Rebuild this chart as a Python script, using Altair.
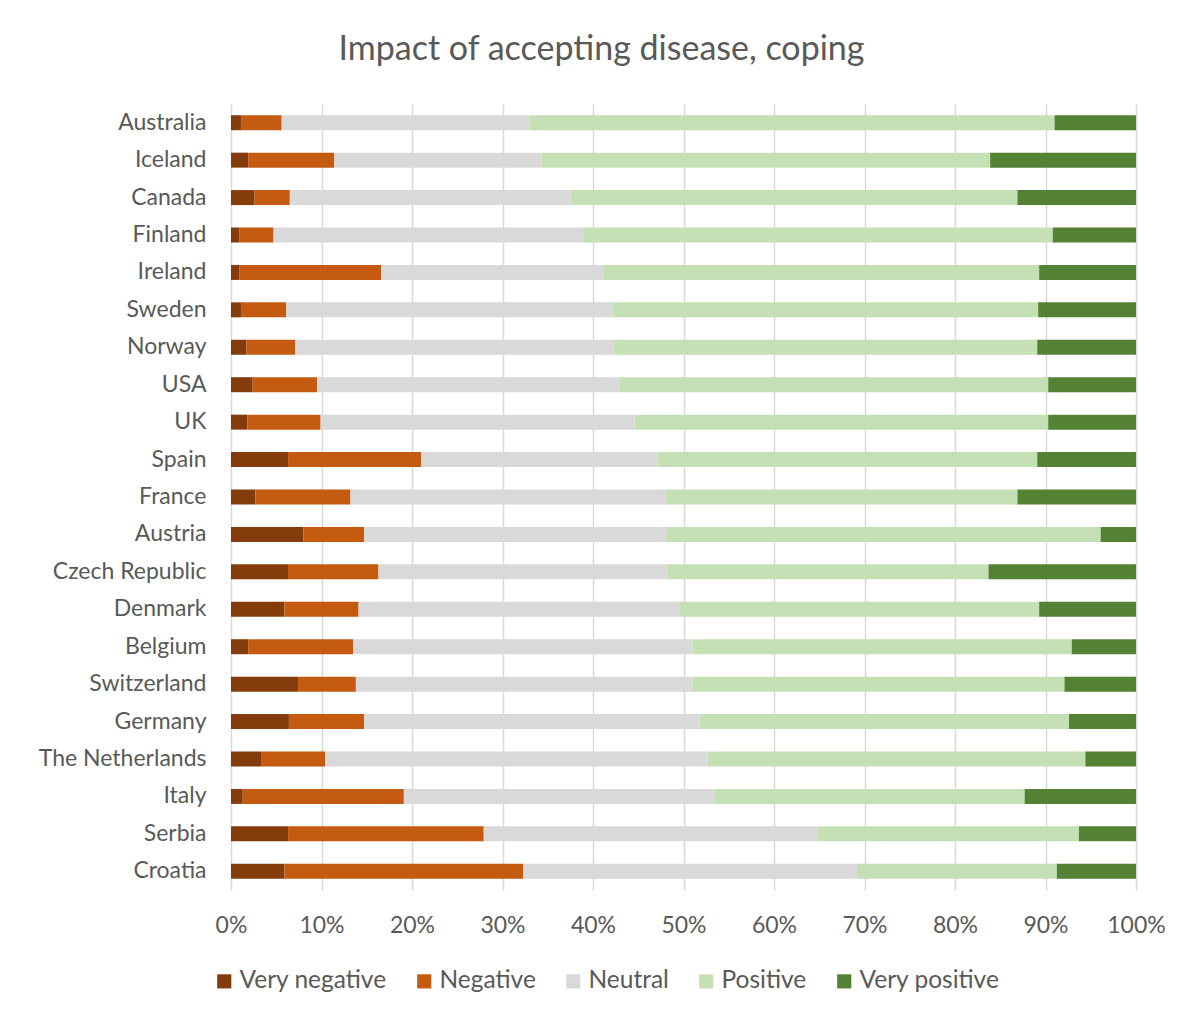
import altair as alt
import pandas as pd

countries = ["Australia", "Iceland", "Canada", "Finland", "Ireland", "Sweden", "Norway",
             "USA", "UK", "Spain", "France", "Austria", "Czech Republic", "Denmark",
             "Belgium", "Switzerland", "Germany", "The Netherlands", "Italy", "Serbia", "Croatia"]
categories = ["Very negative", "Negative", "Neutral", "Positive", "Very positive"]
colors = ["#843c0c", "#c55a11", "#d9d9d9", "#c5e0b4", "#548235"]

very_negative = [1.1, 1.9, 2.6, 0.9, 0.9, 1.1, 1.7, 2.4, 1.8, 6.3, 2.7, 8.0, 6.3, 5.9, 1.9, 7.4, 6.4, 3.4, 1.3, 6.3, 5.9]
negative      = [4.5, 9.5, 3.9, 3.8, 15.7, 5.0, 5.4, 7.1, 8.1, 14.7, 10.5, 6.7, 10.0, 8.2, 11.6, 6.4, 8.3, 7.0, 17.8, 21.6, 26.4]
neutral       = [27.4, 22.9, 31.0, 34.3, 24.6, 36.0, 35.1, 33.4, 34.7, 26.1, 34.8, 33.4, 31.9, 35.5, 37.5, 37.2, 37.1, 42.3, 34.3, 36.9, 36.9]
positive      = [58.0, 49.5, 49.4, 51.8, 48.1, 47.0, 46.8, 47.4, 45.7, 41.9, 38.9, 48.0, 35.5, 39.7, 41.9, 41.1, 40.8, 41.8, 34.3, 28.8, 22.1]
very_positive = [9.0, 16.1, 13.1, 9.2, 10.7, 10.8, 10.9, 9.7, 9.7, 10.9, 13.1, 3.9, 16.3, 10.7, 7.1, 7.9, 7.4, 5.6, 12.3, 6.3, 8.75]

series = [very_negative, negative, neutral, positive, very_positive]
rows = []
for ci, (cat, vals) in enumerate(zip(categories, series)):
    for country, v in zip(countries, vals):
        rows.append({"Country": country, "Response": cat, "Value": v, "Order": ci})
df = pd.DataFrame(rows)

FONT = "Lato"
TEXT = "#595959"

chart = alt.Chart(df).mark_bar(size=15).encode(
    y=alt.Y("Country:N", sort=countries, title=None,
            axis=alt.Axis(labelFontSize=23, labelColor=TEXT, labelFont=FONT,
                          ticks=False, domain=False, labelPadding=25)),
    x=alt.X("Value:Q", stack="normalize", title=None,
            scale=alt.Scale(domain=[0, 1], nice=False),
            axis=alt.Axis(format=".0%", values=[i / 10 for i in range(11)],
                          labelFontSize=23, labelColor=TEXT, labelFont=FONT,
                          labelFlush=False, labelOverlap=False,
                          ticks=False, domain=False, labelPadding=24,
                          grid=True, gridColor="#d9d9d9", gridWidth=1.5)),
    color=alt.Color("Response:N", sort=categories,
                    scale=alt.Scale(domain=categories, range=colors),
                    legend=alt.Legend(title=None, orient="none", direction="horizontal",
                                      legendX=-19, legendY=865,
                                      labelFontSize=24.5, labelColor=TEXT, labelFont=FONT,
                                      symbolType="square", symbolSize=200,
                                      symbolStrokeWidth=0, columnPadding=25,
                                      labelOffset=3)),
    order=alt.Order("Order:Q", sort="ascending"),
).properties(
    width=905,
    height=786,
    title=alt.TitleParams("Impact of accepting disease, coping", fontSize=34,
                          font=FONT, fontWeight="normal", color=TEXT,
                          anchor="middle", offset=37, dx=-82),
    autosize=alt.AutoSizeParams(type="none"),
    padding={"left": 223, "top": 96, "right": 40, "bottom": 117},
).configure_view(stroke=None).configure_scale(bandPaddingInner=0.6)

chart.save("out.html", embed_options={"renderer": "svg", "actions": False})
